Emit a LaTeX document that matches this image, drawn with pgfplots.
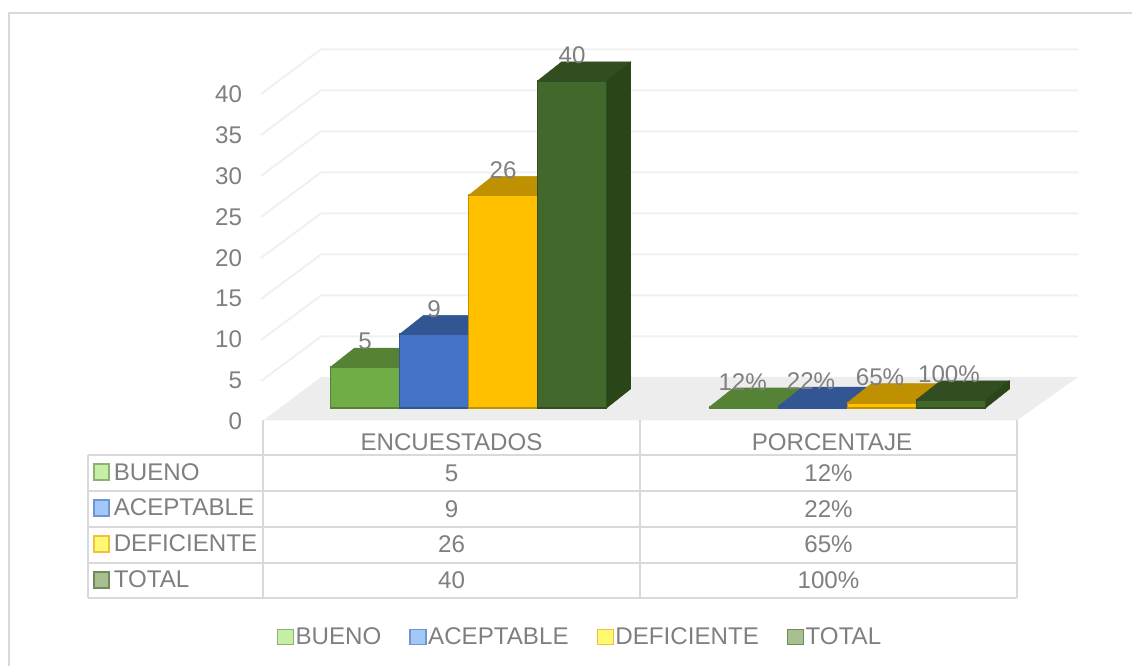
\documentclass[border=0pt]{standalone}
\usepackage{fontspec}
\setmainfont{Liberation Sans}
\usepackage{pgfplots}
\pgfplotsset{compat=1.18}
\definecolor{txt}{HTML}{7F7F7F}
\definecolor{tl}{HTML}{D9D9D9}
\definecolor{gl}{HTML}{F0F0F0}
\definecolor{fl}{HTML}{EDEDED}
\definecolor{gA}{HTML}{70AD47}\definecolor{gB}{HTML}{568235}
\definecolor{bA}{HTML}{4472C4}\definecolor{bB}{HTML}{325593}
\definecolor{yA}{HTML}{FFC000}\definecolor{yB}{HTML}{BF9000}
\definecolor{dA}{HTML}{43682B}\definecolor{dB}{HTML}{324E20}\definecolor{dC}{HTML}{2A4518}
\definecolor{sgF}{HTML}{C6EFA6}\definecolor{sgD}{HTML}{8FB073}
\definecolor{sbF}{HTML}{A4C7FA}\definecolor{sbD}{HTML}{6F94CF}
\definecolor{syF}{HTML}{FFF870}\definecolor{syD}{HTML}{EDC040}
\definecolor{sdF}{HTML}{A8C090}\definecolor{sdD}{HTML}{6F8A5C}
\newcommand\tf{\fontsize{18.1pt}{20pt}\selectfont}
\pgfplotsset{
  canvas/.style={scale only axis,width=849pt,height=499.5pt,at={(0,0)},anchor=south west,clip=false,axis lines=none},
}
\begin{document}
\begin{tikzpicture}
\path[use as bounding box] (0,0) rectangle (849pt,499.5pt);
% ---- frame, floor, walls, data table, legend (pixel coordinates)
\begin{axis}[canvas,xmin=0,xmax=1132,ymin=0,ymax=666,y dir=reverse,
  legend image code/.code={\draw[line width=1.1pt,#1] (0pt,-5.6pt) rectangle (12pt,5.6pt);},
  legend style={at={(axis cs:579,637)},anchor=center,draw=none,fill=none,inner sep=0pt,
    font=\tf,text=txt,legend columns=4,
    /tikz/every even column/.append style={column sep=21pt},
    nodes={inner sep=0pt,outer sep=0pt},
    legend cell align=left},
]
\addplot[forget plot,draw=tl,line width=1.5pt] coordinates {(1132,13.5) (8.5,13.5) (8.5,666)};
\addplot[forget plot,fill=fl,draw=none] coordinates {(263,420.5) (321,377) (1078,377) (1017,420.5)} --cycle;
\addplot[forget plot,draw=gl,line width=1.5pt] coordinates {(261,94) (321,49.3) (1078,49.3)};
\addplot[forget plot,draw=gl,line width=1.5pt] coordinates {(261,135) (321,90.3) (1078,90.3)};
\addplot[forget plot,draw=gl,line width=1.5pt] coordinates {(261,176) (321,131.3) (1078,131.3)};
\addplot[forget plot,draw=gl,line width=1.5pt] coordinates {(261,217) (321,172.3) (1078,172.3)};
\addplot[forget plot,draw=gl,line width=1.5pt] coordinates {(261,258) (321,213.4) (1078,213.4)};
\addplot[forget plot,draw=gl,line width=1.5pt] coordinates {(261,299) (321,254.4) (1078,254.4)};
\addplot[forget plot,draw=gl,line width=1.5pt] coordinates {(261,340) (321,295.5) (1078,295.5)};
\addplot[forget plot,draw=gl,line width=1.5pt] coordinates {(261,381) (321,336.5) (1078,336.5)};
% table rules
\addplot[forget plot,draw=tl,line width=1.5pt] coordinates {(263,420.5) (263,598)};
\addplot[forget plot,draw=tl,line width=1.5pt] coordinates {(640,420.5) (640,598)};
\addplot[forget plot,draw=tl,line width=1.5pt] coordinates {(1017,420.5) (1017,598)};
\addplot[forget plot,draw=tl,line width=1.5pt] coordinates {(88,455) (88,598)};
\addplot[forget plot,draw=tl,line width=1.5pt] coordinates {(88,455) (1017,455)};
\addplot[forget plot,draw=tl,line width=1.5pt] coordinates {(88,491) (1017,491)};
\addplot[forget plot,draw=tl,line width=1.5pt] coordinates {(88,527) (1017,527)};
\addplot[forget plot,draw=tl,line width=1.5pt] coordinates {(88,562.5) (1017,562.5)};
\addplot[forget plot,draw=tl,line width=1.5pt] coordinates {(88,598) (1017,598)};
% table swatches
\addplot[forget plot,draw=sgD,fill=sgF,line width=1.1pt] coordinates {(94,464) (109,464) (109,480) (94,480)} --cycle;
\addplot[forget plot,draw=sbD,fill=sbF,line width=1.1pt] coordinates {(94,500) (109,500) (109,516) (94,516)} --cycle;
\addplot[forget plot,draw=syD,fill=syF,line width=1.1pt] coordinates {(94,536) (109,536) (109,552) (94,552)} --cycle;
\addplot[forget plot,draw=sdD,fill=sdF,line width=1.1pt] coordinates {(94,572) (109,572) (109,588) (94,588)} --cycle;
% table text
\begin{scope}[every node/.style={font=\tf,text=txt,inner sep=0pt}]
\node at (axis cs:451.5,442) {ENCUESTADOS};
\node at (axis cs:832,442) {PORCENTAJE};
\node[anchor=west] at (axis cs:113.5,472) {BUENO};
\node[anchor=west] at (axis cs:113.5,507.5) {ACEPTABLE};
\node[anchor=west] at (axis cs:113.5,543.5) {DEFICIENTE};
\node[anchor=west] at (axis cs:113.5,579) {TOTAL};
\node at (axis cs:451.5,473) {5};    \node at (axis cs:828.5,473) {12\%};
\node at (axis cs:451.5,509) {9};    \node at (axis cs:828.5,509) {22\%};
\node at (axis cs:451.5,544.5) {26}; \node at (axis cs:828.5,544.5) {65\%};
\node at (axis cs:451.5,580) {40};   \node at (axis cs:828.5,580) {100\%};
\end{scope}
% legend
\addlegendimage{draw=sgD,fill=sgF}\addlegendentry{\kern1pt BUENO}
\addlegendimage{draw=sbD,fill=sbF}\addlegendentry{\kern1pt ACEPTABLE}
\addlegendimage{draw=syD,fill=syF}\addlegendentry{\kern1pt DEFICIENTE}
\addlegendimage{draw=sdD,fill=sdF}\addlegendentry{\kern1pt TOTAL}
\end{axis}
% ---- value axis: tick labels only
\begin{axis}[scale only axis,width=565.5pt,height=245.25pt,at={(197.25pt,183.5pt)},anchor=south west,
  xmin=0,xmax=1,ymin=0,ymax=40,ytick distance=5,xtick=\empty,
  axis line style={draw=none},major tick length=0pt,
  /pgf/number format/assume math mode=true,
  yticklabel style={font=\tf,text=txt,inner sep=0pt,xshift=-15.5pt},
]
\end{axis}
% ---- bars: x in pixels, y in chart values, front baseline at 0
\begin{axis}[canvas,xmin=0,xmax=1132,ymin=-31.56,ymax=49.908,
  point meta=explicit symbolic,
  barf/.style={ybar,bar shift=0pt,bar width=51.75pt,line width=1.4pt,
    nodes near coords,
    nodes near coords style={font=\tf,text=txt,anchor=center,inner sep=0pt,yshift=19pt,xshift=#1}},
  barf/.default=0pt,
]
% ENCUESTADOS
\addplot[fill=gB,draw=gB] coordinates {(330.5,5) (399.5,5) (423.5,7.324) (354.5,7.324)} --cycle;
\addplot[barf,fill=gA,draw=gB] coordinates {(365,5)[5]};
\addplot[fill=bB,draw=bB] coordinates {(399.5,9) (468.5,9) (492.5,11.324) (423.5,11.324)} --cycle;
\addplot[barf,fill=bA,draw=bB] coordinates {(434,9)[9]};
\addplot[fill=yB,draw=yB] coordinates {(468.5,26) (537.5,26) (561.5,28.324) (492.5,28.324)} --cycle;
\addplot[barf,fill=yA,draw=yB] coordinates {(503,26)[26]};
\addplot[fill=dB,draw=dB] coordinates {(537.5,40) (606.5,40) (630.5,42.324) (561.5,42.324)} --cycle;
\addplot[fill=dC,draw=dC] coordinates {(606.5,0) (630.5,2.324) (630.5,42.324) (606.5,40)} --cycle;
\addplot[barf,fill=dA,draw=dB] coordinates {(572,40)[40]};
% PORCENTAJE
\addplot[fill=gB,draw=gB] coordinates {(709.5,0.12) (778.5,0.12) (802.5,2.444) (733.5,2.444)} --cycle;
\addplot[barf=-1pt,fill=gA,draw=gB] coordinates {(744,0.12)[12\%]};
\addplot[fill=bB,draw=bB] coordinates {(778.5,0.22) (847.5,0.22) (871.5,2.544) (802.5,2.544)} --cycle;
\addplot[barf=-1.5pt,fill=bA,draw=bB] coordinates {(813,0.22)[22\%]};
\addplot[fill=yB,draw=yB] coordinates {(847.5,0.65) (916.5,0.65) (940.5,2.974) (871.5,2.974)} --cycle;
\addplot[barf=-1.5pt,fill=yA,draw=yB] coordinates {(882,0.65)[65\%]};
\addplot[fill=dB,draw=dB] coordinates {(916.5,1) (985.5,1) (1009.5,3.324) (940.5,3.324)} --cycle;
\addplot[fill=dC,draw=dC] coordinates {(985.5,0) (1009.5,2.324) (1009.5,3.324) (985.5,1)} --cycle;
\addplot[barf=-1.5pt,fill=dA,draw=dB] coordinates {(951,1)[100\%]};
\end{axis}
\end{tikzpicture}
\end{document}
